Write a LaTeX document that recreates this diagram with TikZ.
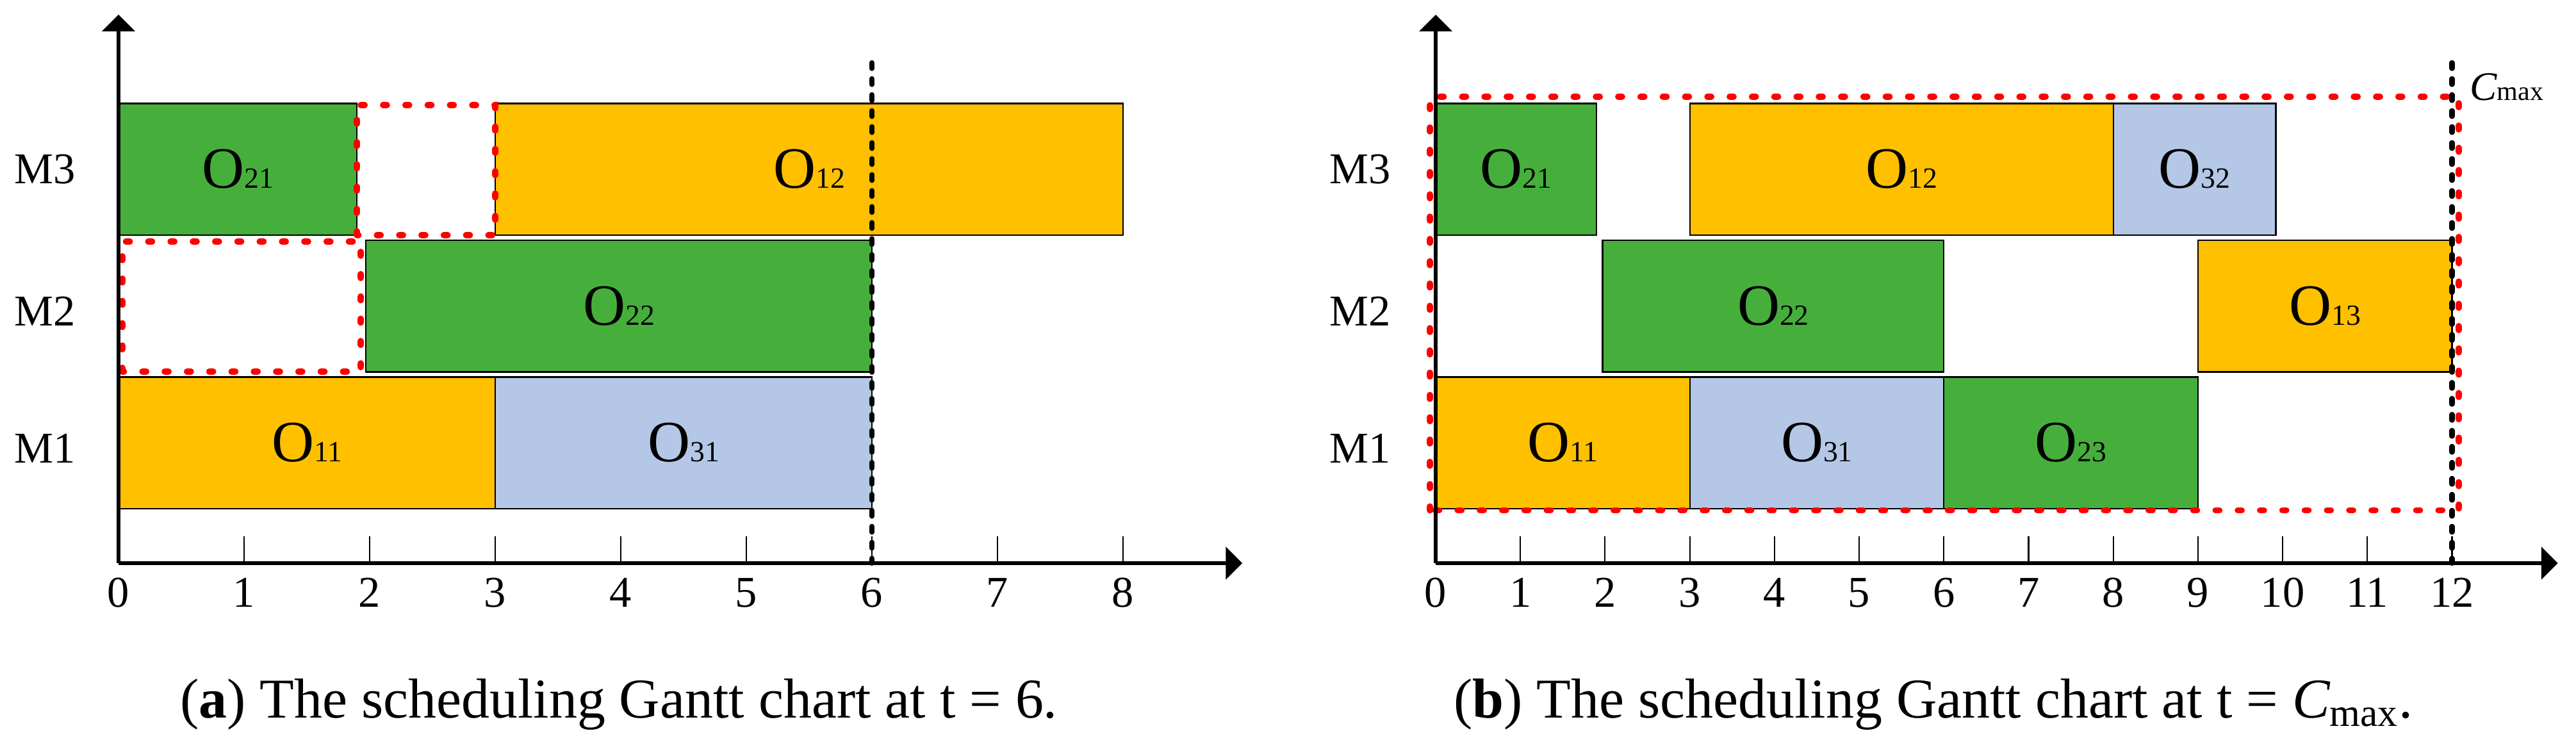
\documentclass[tikz,border=0pt]{standalone}
\usepackage{fontspec}
\setmainfont{Liberation Serif}
\usepackage{tikz}
\usetikzlibrary{arrows}
\usetikzlibrary{positioning}
\definecolor{gold}{RGB}{255,192,0}
\definecolor{grass}{RGB}{70,175,60}
\definecolor{sky}{RGB}{180,199,231}
\newcommand\opname[1]{{\fontsize{26}{26}\selectfont O}{\fontsize{13}{13}\selectfont #1}}
\newcommand\opbox[6]{%
  \filldraw[job,fill=#1] (#2,{0.85+(#4-1)*2.135}) rectangle (#3,{2.905+(#4-1)*2.135});
  \node (#5) at ({(#2+#3)/2},{1.88+(#4-1)*2.135}) {\opname{#6}};}
\tikzstyle{job}=[draw=black,line width=0.6pt]
\tikzstyle{axis}=[line width=1.6pt,->,>=triangle 90]
\tikzstyle{tick}=[line width=0.6pt]
\tikzstyle{idle}=[draw=red,line width=2.8pt,line cap=round,dash pattern=on 1.7pt off 8.2pt]
\tikzstyle{limit}=[draw=black,line width=2.3pt,line cap=round,dash pattern=on 2.5pt off 4.6pt]
\tikzstyle{num}=[font=\fontsize{19.5}{20}\selectfont]
\tikzstyle{mach}=[font=\fontsize{19.5}{20}\selectfont]
\tikzstyle{subcap}=[anchor=base,font=\fontsize{25}{26}\selectfont]

\begin{document}
\begin{tikzpicture}
  \useasboundingbox (0,0) rectangle (40.21,11.54);
  \begin{scope}[shift={(1.85,2.75)},x=1.96cm]
    \coordinate (oa) at (0,0);
    \coordinate (xa) at (8.95,0);
    \coordinate (ya) at (0,8.56);
    \opbox{grass}{0}{1.9}{3}{a21}{21}
    \opbox{gold}{3}{8}{3}{a12}{12}
    \opbox{grass}{1.97}{6}{2}{a22}{22}
    \opbox{gold}{0}{3}{1}{a11}{11}
    \opbox{sky}{3}{6}{1}{a31}{31}
    \foreach \t in {1,...,8} \draw[tick] (\t,0) -- (\t,0.42);
    \foreach \t in {0,...,8} \node[num] (na\t) at (\t,-0.46) {\t};
    \node[mach] (ma3) at (-0.587,6.15) {M3};
    \node[mach] (ma2) at (-0.587,3.93) {M2};
    \node[mach] (ma1) at (-0.587,1.79) {M1};
    \draw[idle] (1.9,5.12) rectangle (3,7.15);
    \draw[idle] (0.03,2.99) rectangle (1.93,5.02);
    \coordinate (ta) at (6,7.81);
    \coordinate (ba) at (6,0);
    \draw[limit] (ta) -- (ba);
    \draw[axis] (oa) -- (xa);
    \draw[axis] (oa) -- (ya);
  \end{scope}
  \begin{scope}[shift={(22.41,2.75)},x=1.322cm]
    \coordinate (ob) at (0,0);
    \coordinate (xb) at (13.25,0);
    \coordinate (yb) at (0,8.56);
    \opbox{grass}{0}{1.9}{3}{b21}{21}
    \opbox{gold}{3}{8}{3}{b12}{12}
    \opbox{sky}{8}{9.92}{3}{b32}{32}
    \opbox{grass}{1.97}{6}{2}{b22}{22}
    \opbox{gold}{9}{12}{2}{b13}{13}
    \opbox{gold}{0}{3}{1}{b11}{11}
    \opbox{sky}{3}{6}{1}{b31}{31}
    \opbox{grass}{6}{9}{1}{b23}{23}
    \foreach \t in {1,...,12} \draw[tick] (\t,0) -- (\t,0.42);
    \foreach \t in {0,...,12} \node[num] (nb\t) at (\t,-0.46) {\t};
    \node[mach] (mb3) at (-0.893,6.15) {M3};
    \node[mach] (mb2) at (-0.893,3.93) {M2};
    \node[mach] (mb1) at (-0.893,1.79) {M1};
    \draw[idle] (-0.068,0.825) rectangle (12.08,7.28);
    \coordinate (tb) at (12,7.81);
    \coordinate (bb) at (12,0);
    \draw[limit] (tb) -- (bb);
    \node[anchor=west] (cmax) at (12.12,7.43) {{\fontsize{18}{18}\selectfont\itshape C}{\fontsize{12}{12}\selectfont max}};
    \draw[axis] (ob) -- (xb);
    \draw[axis] (ob) -- (yb);
  \end{scope}
  \node[subcap] (capa) at (9.66,0.34) {(\textbf{a}) The scheduling Gantt chart at t = 6.};
  \node[subcap] (capb) at (30.18,0.34) {(\textbf{b}) The scheduling Gantt chart at t = {\itshape C}\textsubscript{max}.};
\end{tikzpicture}
\end{document}
